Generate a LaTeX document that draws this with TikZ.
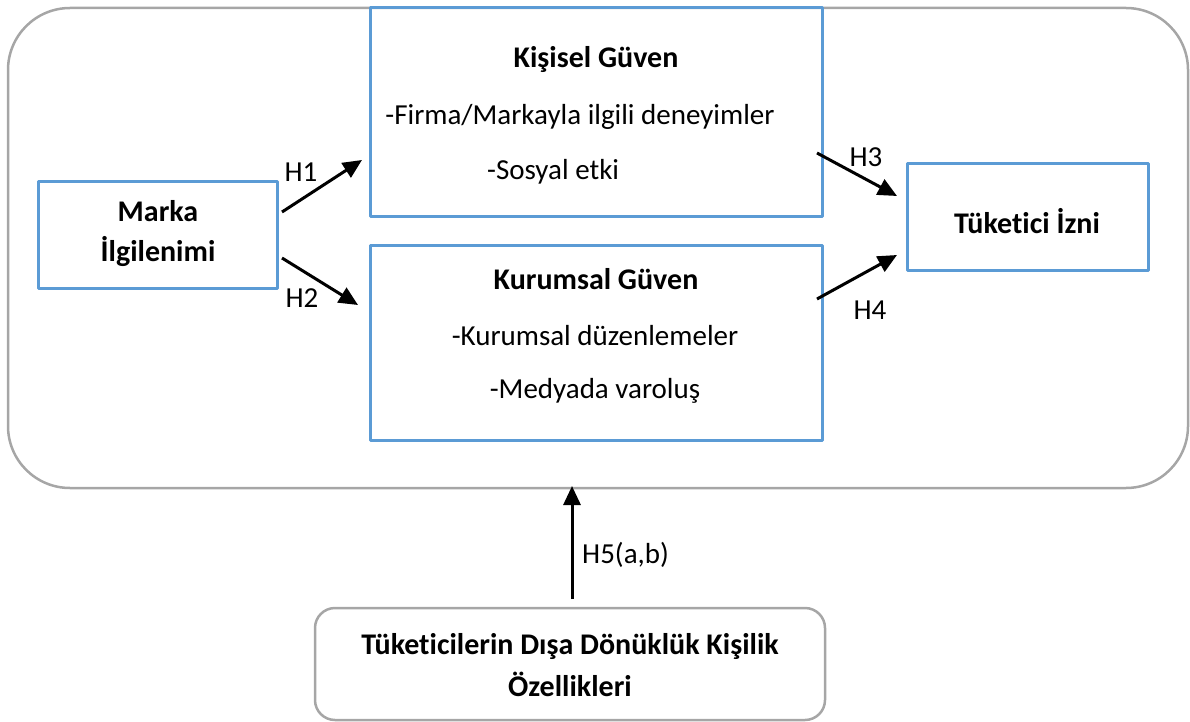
\documentclass[tikz,border=0pt]{standalone}
\usepackage{fontspec}
\setmainfont{Carlito}[Ligatures=CommonOff]
\usetikzlibrary{arrows.meta}
\definecolor{boxblue}{RGB}{91,155,213}
\definecolor{framegray}{RGB}{166,166,166}
\tikzset{
  bluebox/.style={draw=boxblue, line width=3pt, inner sep=0pt},
  graybox/.style={draw=framegray, line width=2.5pt, rounded corners=20pt, inner sep=0pt},
  hyp/.style={-{Triangle[length=19pt,width=17pt]}, line width=3pt},
  lbl/.style={font=\fontsize{29}{35}\selectfont, inner sep=0pt},
  head/.style={font=\fontsize{30}{36}\selectfont\bfseries, inner sep=0pt, align=center}
}
\begin{document}
\begin{tikzpicture}[x=1pt, y=-1pt, line join=round]
				\useasboundingbox (0,0) rectangle (1190,722);
				% outer frame
			\draw[draw=framegray, line width=2.5pt, rounded corners=62pt] (8,8) rectangle (1188,488);
				% boxes
			\node[bluebox, minimum width=452, minimum height=208] (kisisel) at (596,112) {};
			\node[bluebox, minimum width=452, minimum height=195] (kurumsal) at (596,342.5) {};
			\node[bluebox, minimum width=239, minimum height=106] (marka) at (157.5,235) {};
			\node[bluebox, minimum width=241, minimum height=106] (izin) at (1027.5,217) {};
			\node[graybox, minimum width=510, minimum height=112] (disa) at (570,664) {};
				% texts
			\node[head] (kisiselT) at (596,59) {Kişisel Güven};
			\node[lbl] (kisiselA) at (580,117) {-Firma/Markayla ilgili deneyimler};
			\node[lbl, anchor=west] (kisiselB) at (487,172) {-Sosyal etki};
			\node[head] (kurumsalT) at (596,279) {Kurumsal Güven};
			\node[lbl] (kurumsalA) at (595,336) {-Kurumsal düzenlemeler};
			\node[lbl] (kurumsalB) at (595,391) {-Medyada varoluş};
			\node[head] (markaT) at (158,234) {Marka\\[4pt]İlgilenimi};
			\node[head] (izinT) at (1027,221) {Tüketici İzni};
			\node[head] (disaT) at (570,665) {Tüketicilerin Dışa Dönüklük Kişilik\\[6pt]Özellikleri};
				% arrow ends
				\coordinate (h1a) at (282,212);
				\coordinate (h1b) at (362,160);
				\coordinate (h2a) at (282,258);
				\coordinate (h2b) at (358,305);
				\coordinate (h3a) at (817,153);
				\coordinate (h3b) at (897,196);
				\coordinate (h4a) at (817,299);
				\coordinate (h4b) at (897,255);
				\coordinate (h5a) at (572,599);
				\coordinate (h5b) at (572,486);
			\draw[hyp] (h1a)--(h1b);
			\draw[hyp] (h2a)--(h2b);
			\draw[hyp] (h3a)--(h3b);
			\draw[hyp] (h4a)--(h4b);
			\draw[hyp] (h5a)--(h5b);
				\foreach \n/\t/\p in {l1/H1/{301,172},l2/H2/{302,298},l3/H3/{866,157},l4/H4/{870,310}} \node[lbl] (\n) at (\p) {\t};
			\node[lbl, anchor=west] (l5) at (582,555) {H5(a,b)};
\end{tikzpicture}
\end{document}
